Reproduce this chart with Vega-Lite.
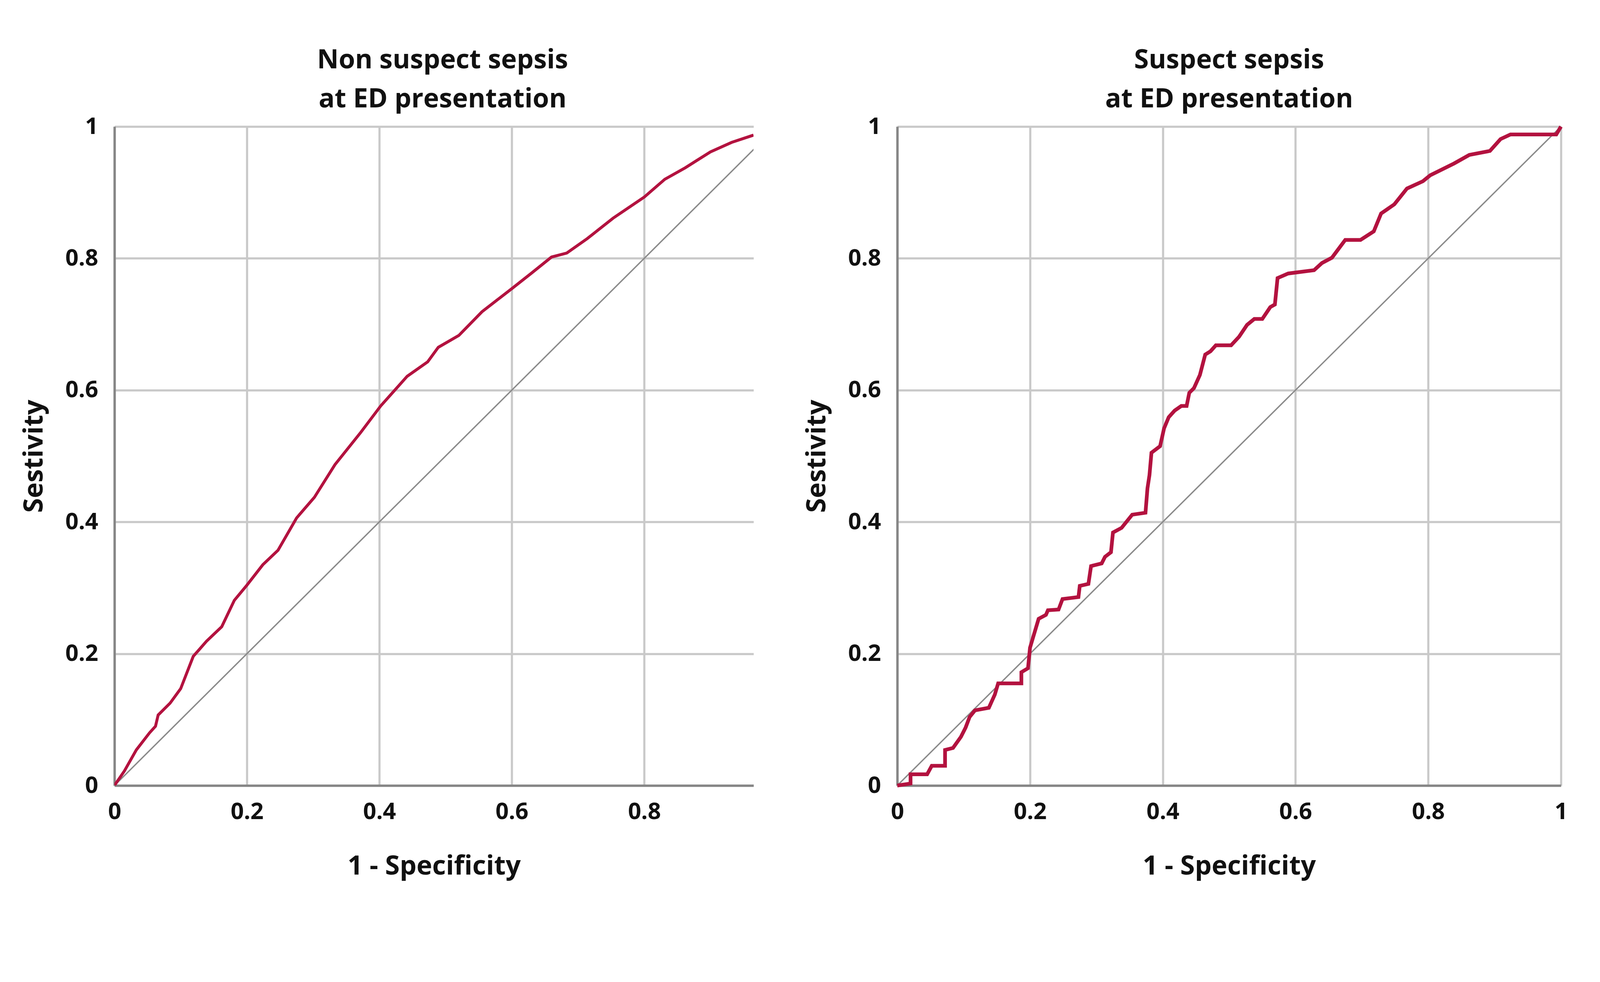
{
  "$schema": "https://vega.github.io/schema/vega-lite/v6.json",
  "background": "white",
  "padding": {"left": 54, "top": 121, "right": 80, "bottom": 100},
  "spacing": 129,
  "datasets": {
    "nonsuspect": [
      {"fpr": 0, "tpr": 0}, {"fpr": 0.015, "tpr": 0.022}, {"fpr": 0.033, "tpr": 0.054}, {"fpr": 0.053, "tpr": 0.08}, {"fpr": 0.062, "tpr": 0.09},
      {"fpr": 0.066, "tpr": 0.107}, {"fpr": 0.084, "tpr": 0.125}, {"fpr": 0.1, "tpr": 0.147}, {"fpr": 0.119, "tpr": 0.196},
      {"fpr": 0.139, "tpr": 0.219}, {"fpr": 0.162, "tpr": 0.241}, {"fpr": 0.181, "tpr": 0.281}, {"fpr": 0.2, "tpr": 0.304},
      {"fpr": 0.224, "tpr": 0.335}, {"fpr": 0.247, "tpr": 0.357}, {"fpr": 0.275, "tpr": 0.406}, {"fpr": 0.302, "tpr": 0.4375},
      {"fpr": 0.333, "tpr": 0.487}, {"fpr": 0.372, "tpr": 0.536}, {"fpr": 0.402, "tpr": 0.576}, {"fpr": 0.442, "tpr": 0.621},
      {"fpr": 0.473, "tpr": 0.643}, {"fpr": 0.489, "tpr": 0.665}, {"fpr": 0.52, "tpr": 0.683}, {"fpr": 0.555, "tpr": 0.719},
      {"fpr": 0.6, "tpr": 0.754}, {"fpr": 0.629, "tpr": 0.777}, {"fpr": 0.66, "tpr": 0.802}, {"fpr": 0.683, "tpr": 0.808},
      {"fpr": 0.714, "tpr": 0.83}, {"fpr": 0.753, "tpr": 0.861}, {"fpr": 0.8, "tpr": 0.893}, {"fpr": 0.831, "tpr": 0.92},
      {"fpr": 0.862, "tpr": 0.9375}, {"fpr": 0.9, "tpr": 0.9616}, {"fpr": 0.932, "tpr": 0.976}, {"fpr": 0.965, "tpr": 0.987}
    ],
    "suspect": [
      {"fpr": 0, "tpr": 0}, {"fpr": 0.02, "tpr": 0.003}, {"fpr": 0.02, "tpr": 0.017}, {"fpr": 0.045, "tpr": 0.017},
      {"fpr": 0.052, "tpr": 0.03}, {"fpr": 0.072, "tpr": 0.03}, {"fpr": 0.072, "tpr": 0.054}, {"fpr": 0.084, "tpr": 0.057},
      {"fpr": 0.096, "tpr": 0.074}, {"fpr": 0.103, "tpr": 0.088}, {"fpr": 0.109, "tpr": 0.104}, {"fpr": 0.117, "tpr": 0.114},
      {"fpr": 0.138, "tpr": 0.118}, {"fpr": 0.147, "tpr": 0.138}, {"fpr": 0.152, "tpr": 0.155}, {"fpr": 0.187, "tpr": 0.155},
      {"fpr": 0.187, "tpr": 0.172}, {"fpr": 0.197, "tpr": 0.178}, {"fpr": 0.2, "tpr": 0.209}, {"fpr": 0.205, "tpr": 0.226},
      {"fpr": 0.213, "tpr": 0.253}, {"fpr": 0.224, "tpr": 0.259}, {"fpr": 0.227, "tpr": 0.266}, {"fpr": 0.243, "tpr": 0.267},
      {"fpr": 0.249, "tpr": 0.283}, {"fpr": 0.273, "tpr": 0.286}, {"fpr": 0.275, "tpr": 0.303}, {"fpr": 0.288, "tpr": 0.306},
      {"fpr": 0.292, "tpr": 0.333}, {"fpr": 0.308, "tpr": 0.337}, {"fpr": 0.313, "tpr": 0.347}, {"fpr": 0.322, "tpr": 0.354},
      {"fpr": 0.325, "tpr": 0.384}, {"fpr": 0.338, "tpr": 0.391}, {"fpr": 0.354, "tpr": 0.411}, {"fpr": 0.374, "tpr": 0.414},
      {"fpr": 0.377, "tpr": 0.451}, {"fpr": 0.38, "tpr": 0.471}, {"fpr": 0.383, "tpr": 0.505}, {"fpr": 0.396, "tpr": 0.515},
      {"fpr": 0.402, "tpr": 0.542}, {"fpr": 0.409, "tpr": 0.559}, {"fpr": 0.418, "tpr": 0.569}, {"fpr": 0.428, "tpr": 0.576},
      {"fpr": 0.436, "tpr": 0.576}, {"fpr": 0.44, "tpr": 0.596}, {"fpr": 0.447, "tpr": 0.603}, {"fpr": 0.456, "tpr": 0.623},
      {"fpr": 0.464, "tpr": 0.654}, {"fpr": 0.472, "tpr": 0.659}, {"fpr": 0.48, "tpr": 0.668}, {"fpr": 0.503, "tpr": 0.668},
      {"fpr": 0.515, "tpr": 0.681}, {"fpr": 0.527, "tpr": 0.699}, {"fpr": 0.538, "tpr": 0.708}, {"fpr": 0.55, "tpr": 0.708},
      {"fpr": 0.562, "tpr": 0.726}, {"fpr": 0.569, "tpr": 0.73}, {"fpr": 0.573, "tpr": 0.77}, {"fpr": 0.589, "tpr": 0.777},
      {"fpr": 0.628, "tpr": 0.782}, {"fpr": 0.64, "tpr": 0.793}, {"fpr": 0.655, "tpr": 0.801}, {"fpr": 0.675, "tpr": 0.828},
      {"fpr": 0.698, "tpr": 0.828}, {"fpr": 0.718, "tpr": 0.841}, {"fpr": 0.729, "tpr": 0.868}, {"fpr": 0.749, "tpr": 0.882},
      {"fpr": 0.768, "tpr": 0.906}, {"fpr": 0.792, "tpr": 0.917}, {"fpr": 0.803, "tpr": 0.926}, {"fpr": 0.839, "tpr": 0.944},
      {"fpr": 0.862, "tpr": 0.957}, {"fpr": 0.893, "tpr": 0.963}, {"fpr": 0.909, "tpr": 0.981}, {"fpr": 0.924, "tpr": 0.988},
      {"fpr": 0.993, "tpr": 0.988}, {"fpr": 1, "tpr": 1}
    ],
    "diag": [{"fpr": 0, "tpr": 0}, {"fpr": 1, "tpr": 1}]
  },
  "hconcat": [
    {
      "width": 1636,
      "height": 1687,
      "title": {"text": ["Non suspect sepsis", "at ED presentation"], "dx": 22},
      "layer": [
        {
          "data": {"name": "diag"},
          "mark": {"type": "line", "color": "#8a8a8a", "strokeWidth": 3.5, "clip": true},
          "encoding": {
            "x": {"field": "fpr", "type": "quantitative", "scale": {"domain": [0, 0.965], "nice": false, "zero": false}, "title": "1 - Specificity", "axis": {"values": [0, 0.2, 0.4, 0.6, 0.8]}},
            "y": {"field": "tpr", "type": "quantitative", "scale": {"domain": [0, 1], "nice": false}, "title": "Sestivity", "axis": {"values": [0, 0.2, 0.4, 0.6, 0.8, 1]}}
          }
        },
        {
          "data": {"name": "nonsuspect"},
          "mark": {"type": "line", "color": "#b3123f", "strokeWidth": 7.5, "clip": true},
          "encoding": {
            "x": {"field": "fpr", "type": "quantitative"},
            "y": {"field": "tpr", "type": "quantitative"}
          }
        }
      ]
    },
    {
      "width": 1699,
      "height": 1687,
      "title": {"text": ["Suspect sepsis", "at ED presentation"]},
      "layer": [
        {
          "data": {"name": "diag"},
          "mark": {"type": "line", "color": "#8a8a8a", "strokeWidth": 3.5, "clip": true},
          "encoding": {
            "x": {"field": "fpr", "type": "quantitative", "scale": {"domain": [0, 1], "nice": false}, "title": "1 - Specificity", "axis": {"values": [0, 0.2, 0.4, 0.6, 0.8, 1]}},
            "y": {"field": "tpr", "type": "quantitative", "scale": {"domain": [0, 1], "nice": false}, "title": "Sestivity", "axis": {"values": [0, 0.2, 0.4, 0.6, 0.8, 1]}}
          }
        },
        {
          "data": {"name": "suspect"},
          "mark": {"type": "line", "color": "#b3123f", "strokeWidth": 9.5, "strokeJoin": "miter"},
          "encoding": {
            "x": {"field": "fpr", "type": "quantitative"},
            "y": {"field": "tpr", "type": "quantitative"}
          }
        }
      ]
    }
  ],
  "config": {
    "font": "Open Sans",
    "view": {"stroke": null},
    "title": {"fontSize": 68, "fontWeight": "bold", "color": "#111111", "lineHeight": 100, "anchor": "middle", "offset": 6, "font": "Open Sans"},
    "axis": {
      "format": "~g",
      "labelFont": "Open Sans",
      "labelFontSize": 59,
      "labelFontWeight": "bold",
      "labelColor": "#111111",
      "titleFont": "Open Sans",
      "titleFontSize": 68,
      "titleFontWeight": "bold",
      "titleColor": "#111111",
      "grid": true,
      "gridColor": "#c9c9c9",
      "gridWidth": 5.5,
      "domainColor": "#858585",
      "domainWidth": 6,
      "ticks": false,
      "labelFlush": false,
      "labelOverlap": false
    },
    "axisX": {"labelPadding": 38, "titlePadding": 76},
    "axisY": {"labelPadding": 42, "titlePadding": 44}
  }
}
